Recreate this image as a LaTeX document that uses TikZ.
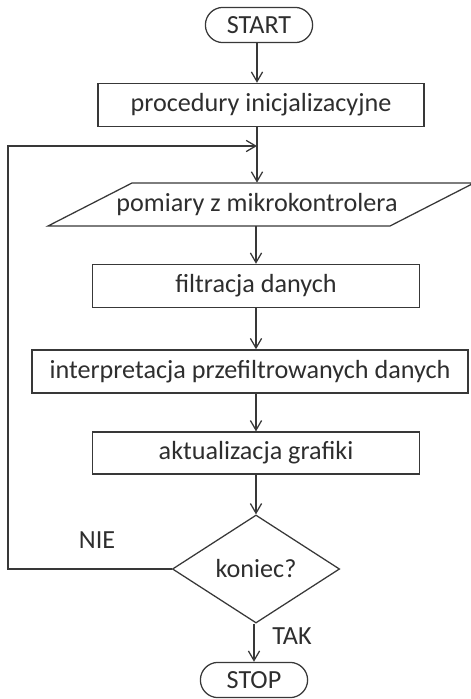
\documentclass[tikz,border=0pt]{standalone}
\usepackage{fontspec}
\setmainfont{Carlito}
\usepackage{tikz}
\usetikzlibrary{arrows.meta,shapes.geometric,positioning}
\definecolor{ink}{HTML}{383838}
\definecolor{txt}{HTML}{2E2E2E}
\tikzset{
  line/.style={draw=ink, line width=0.9pt},
  flow/.style={line, -{Straight Barb[length=2.4mm,width=2.8mm]}},
  proc/.style={line, rectangle, minimum height=1.08cm, inner sep=0pt, text=txt, font=\fontsize{18.6}{20}\selectfont},
  iobox/.style={rectangle, minimum height=1.08cm, inner sep=0pt, text=txt, font=\fontsize{18.6}{20}\selectfont},
  term/.style={proc, rounded corners=0.44cm, minimum height=0.88cm, minimum width=2.68cm},
  decide/.style={line, diamond, minimum width=4.18cm, minimum height=2.7cm, inner sep=0pt, text=txt, font=\fontsize{18.6}{20}\selectfont},
  lbl/.style={text=txt, font=\fontsize{18.6}{20}\selectfont}
}
\begin{document}
\begin{tikzpicture}[x=0.025cm, y=-0.025cm]
  \useasboundingbox (0,0) rectangle (470,699);
  % terminals and steps
  \node[term] (start) at (259,25) {START};
  \node[proc, minimum width=8.15cm] (init) at (261,105) {procedury inicjalizacyjne};
  \node[iobox] (pom) at (257,204.5) {pomiary z mikrokontrolera};
  \draw[line] (48,226) -- (390,226) -- (474,183) -- (132,183) -- cycle;
  \node[proc, minimum width=8.18cm] (filtr) at (256,286) {filtracja danych};
  \node[proc, minimum width=10.9cm] (interp) at (250,371.5) {interpretacja przefiltrowanych danych};
  \node[proc, minimum width=8.18cm, minimum height=1.05cm] (aktual) at (256,453) {aktualizacja grafiki};
  \node[decide] (koniec) at (256,569) {koniec?};
  \node[term] (stop) at (254,680) {STOP};
  \node[lbl] (nie) at (97,540) {NIE};
  \node[lbl] (tak) at (292,636) {TAK};
  \coordinate (back) at (257,146);
  % connectors
  \draw[flow] (start.south -| back) -- (back |- init.north);
  \draw[line] (init.south -| back) -- (back);
  \draw[flow] (back) -- (pom);
  \draw[flow] (filtr |- pom.south) -- (filtr);
  \draw[flow] (filtr) -- (filtr |- interp.north);
  \draw[flow] (interp.south -| aktual) -- (aktual);
  \draw[flow] (aktual) -- (koniec);
  \draw[flow] (koniec.south -| stop) -- (stop);
  \draw[flow] (koniec.west) -- (8,569) -- (8,146) -- (back);
\end{tikzpicture}
\end{document}
